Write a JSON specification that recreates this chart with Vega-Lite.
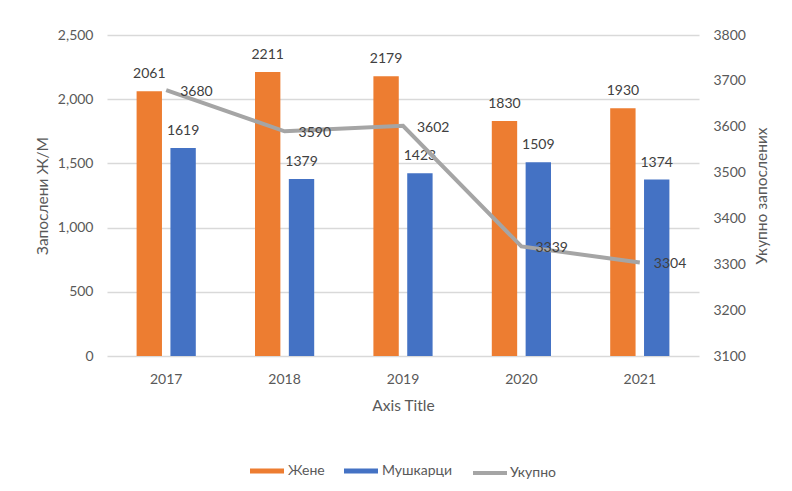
{
  "$schema": "https://vega.github.io/schema/vega-lite/v6.json",
  "width": 592,
  "height": 321,
  "autosize": {"type": "none"},
  "padding": {"left": 107, "top": 35, "right": 93, "bottom": 135},
  "background": "white",
  "config": {
    "font": "Lato",
    "view": {"stroke": null},
    "axis": {"labelFont": "Lato", "titleFont": "Lato", "labelFontSize": 14, "titleFontSize": 15.5, "labelColor": "#595959", "titleColor": "#595959", "titleFontWeight": "normal", "ticks": false, "domain": false},
    "legend": {"labelFont": "Lato", "labelFontSize": 14, "labelColor": "#595959", "layout": {"bottom": {"anchor": "middle", "direction": "horizontal", "margin": 18}}}
  },
  "datasets": {
    "bars": [
      {"year": "2017", "series": "Жене", "value": 2061},
      {"year": "2017", "series": "Мушкарци", "value": 1619},
      {"year": "2018", "series": "Жене", "value": 2211},
      {"year": "2018", "series": "Мушкарци", "value": 1379},
      {"year": "2019", "series": "Жене", "value": 2179},
      {"year": "2019", "series": "Мушкарци", "value": 1423},
      {"year": "2020", "series": "Жене", "value": 1830},
      {"year": "2020", "series": "Мушкарци", "value": 1509},
      {"year": "2021", "series": "Жене", "value": 1930},
      {"year": "2021", "series": "Мушкарци", "value": 1374}
    ],
    "totals": [
      {"year": "2017", "series": "Укупно", "total": 3680},
      {"year": "2018", "series": "Укупно", "total": 3590},
      {"year": "2019", "series": "Укупно", "total": 3602},
      {"year": "2020", "series": "Укупно", "total": 3339},
      {"year": "2021", "series": "Укупно", "total": 3304}
    ]
  },
  "layer": [
    {
      "data": {"name": "bars"},
      "layer": [
        {
          "mark": {"type": "bar"},
          "encoding": {
            "x": {"field": "year", "type": "nominal", "title": "Axis Title", "scale": {"paddingInner": 0.5, "paddingOuter": 0.25},
                  "axis": {"labelAngle": 0, "labelPadding": 16, "titlePadding": 12, "grid": false}},
            "xOffset": {"field": "series", "type": "nominal", "scale": {"paddingInner": 0.25, "paddingOuter": 0}},
            "y": {"field": "value", "type": "quantitative", "title": "Запослени Ж/М",
                  "scale": {"domain": [0, 2500], "nice": false},
                  "axis": {"values": [0, 500, 1000, 1500, 2000, 2500], "format": ",d", "labelPadding": 14, "titlePadding": 7, "grid": true, "gridColor": "#D9D9D9", "gridWidth": 1.5}},
            "color": {"field": "series", "type": "nominal", "title": null,
                      "scale": {"domain": ["Жене", "Мушкарци"], "range": ["#ED7D31", "#4472C4"]},
                      "legend": {"orient": "bottom", "direction": "horizontal", "symbolType": "M-1,-0.14H1V0.14H-1Z", "symbolSize": 1156, "symbolStrokeWidth": 0, "labelOffset": 4, "columnPadding": 19, "offset": 40}}
          }
        },
        {
          "mark": {"type": "text", "baseline": "alphabetic", "dy": -13, "fontSize": 14, "color": "#404040"},
          "encoding": {
            "x": {"field": "year", "type": "nominal"},
            "xOffset": {"field": "series", "type": "nominal"},
            "y": {"field": "value", "type": "quantitative"},
            "text": {"field": "value", "type": "quantitative", "format": "d"}
          }
        }
      ]
    },
    {
      "data": {"name": "totals"},
      "layer": [
        {
          "mark": {"type": "line", "strokeWidth": 4},
          "encoding": {
            "x": {"field": "year", "type": "nominal"},
            "y": {"field": "total", "type": "quantitative", "title": "Укупно запослених",
                  "scale": {"domain": [3100, 3800], "nice": false},
                  "axis": {"orient": "right", "values": [3100, 3200, 3300, 3400, 3500, 3600, 3700, 3800], "format": "d", "labelPadding": 14, "titlePadding": 9, "titleAngle": -90, "titleBaseline": "top", "grid": false}},
            "stroke": {"field": "series", "type": "nominal", "title": null,
                       "scale": {"domain": ["Укупно"], "range": ["#A5A5A5"]},
                       "legend": {"orient": "bottom", "direction": "horizontal", "symbolType": "stroke", "symbolSize": 1156, "symbolStrokeWidth": 4, "labelOffset": 1, "offset": 40}}
          }
        },
        {
          "mark": {"type": "text", "align": "left", "baseline": "middle", "dx": 14, "dy": 2, "fontSize": 14, "color": "#404040"},
          "encoding": {
            "x": {"field": "year", "type": "nominal"},
            "y": {"field": "total", "type": "quantitative"},
            "text": {"field": "total", "type": "quantitative", "format": "d"}
          }
        }
      ]
    }
  ],
  "resolve": {"scale": {"y": "independent"}}
}
